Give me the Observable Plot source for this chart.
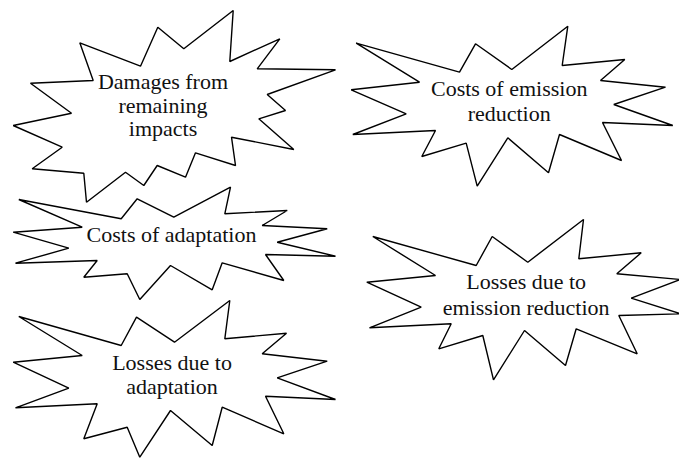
<!DOCTYPE html>
<html>
<head>
<meta charset="utf-8">
<script src="https://cdn.jsdelivr.net/npm/d3@7"></script>
<script src="https://cdn.jsdelivr.net/npm/@observablehq/plot@0.6"></script>
<style>
  html, body { margin: 0; padding: 0; background: #fff; }
  #chart { font-family: "Liberation Serif", serif; }
  #chart svg { display: block; }
</style>
</head>
<body>
<div id="chart"></div>
<script>
// Outline vertices of each starburst (x right, y down)
const starDamages = [
  [79.3, 42.3], [140, 65.7], [157.3, 26.7], [183.3, 48.3], [232.7, 10], [229.3, 61],
  [279.3, 38.3], [256.7, 68.3], [335, 69.3], [266.7, 94], [285, 110], [258.3, 118.3],
  [293.3, 149], [231, 136.7], [235, 165], [195, 152.3], [185, 176.7], [156.7, 165],
  [143.3, 185], [125, 171.7], [86, 201.7], [83.3, 172.7], [31.7, 168.3], [61.7, 146.7],
  [12.7, 125], [71, 112.7], [30, 82.7], [92.7, 80]
];
const starCostsEmission = [
  [355.7, 42.7], [459, 71.7], [475, 43.3], [511.3, 69], [567.3, 25.7], [561.7, 65],
  [624.3, 59], [600, 80], [665, 86.7], [613.3, 104], [672.3, 125], [602, 122],
  [621, 160], [559, 134], [548, 172.3], [507.3, 137.3], [476.7, 185.7], [465.7, 142.7],
  [421.3, 156], [435, 130], [352.3, 134], [405.7, 113.3], [350.7, 89.3], [419, 81.7]
];
const starCostsAdaptation = [
  [18.3, 199], [120.7, 218.3], [136.7, 198.3], [173.3, 216.7], [230, 186.7], [224.3, 213.3],
  [286.7, 210], [261.7, 225], [326.7, 228.3], [276.7, 241.7], [335, 255.7], [265, 254],
  [283.3, 280], [221.7, 262.3], [211.7, 289.3], [170, 265], [139.3, 299], [126.7, 273.3],
  [83.3, 276.7], [96.7, 260], [15, 262.7], [68.3, 247.7], [12.7, 231.7], [81.7, 226.7]
];
const starLossesAdaptation = [
  [18.3, 316], [120.7, 345], [136, 316.7], [174, 341.7], [229.3, 300], [224.3, 338.3],
  [286, 332.7], [261.7, 353.3], [326.7, 360.7], [276.7, 377.3], [335, 399], [265, 395.7],
  [283.3, 433.3], [221.7, 406.7], [211.7, 445], [170, 410], [139.3, 456.7], [126.7, 426.7],
  [83.3, 438.3], [96.7, 403.3], [15, 407.3], [68.3, 387.7], [12.7, 361.7], [81.7, 355]
];
const starLossesEmission = [
  [372.3, 236], [475.7, 265], [491.7, 236], [527.3, 261.7], [583, 219], [578.3, 258.3],
  [640.7, 252.3], [616.3, 273.3], [680, 279], [630.7, 297.7], [680, 313.3], [618.3, 315],
  [636.7, 353.3], [575.7, 328.3], [565, 365], [524, 330], [493, 379.3], [482.3, 335],
  [438.3, 348.3], [450.7, 323.3], [369, 327.3], [420.7, 306.7], [366.3, 281.7], [435, 275]
];

// Label lines: text, centre x, baseline y
const labelText = [
  "Damages from", "remaining", "impacts",
  "Costs of emission", "reduction",
  "Costs of adaptation",
  "Losses due to", "emission reduction",
  "Losses due to", "adaptation"
];
const labelX = [162.5, 162.5, 162.5, 508.7, 508.7, 171, 525.7, 525.7, 171.5, 171.5];
const labelY = [88.5, 112, 135.5, 95, 120.5, 241.5, 288.5, 314, 369, 393.5];

const stars = [
  ["damages", starDamages],
  ["costsEmission", starCostsEmission],
  ["costsAdaptation", starCostsAdaptation],
  ["lossesAdaptation", starLossesAdaptation],
  ["lossesEmission", starLossesEmission]
];
const outline = stars.flatMap(([id, pts]) => pts.map(([x, y]) => ({id, x, y})));
const labels = labelText.map((t, i) => ({t, x: labelX[i], y: labelY[i]}));

const W = 679, H = 458;
const chart = Plot.plot({
  width: W,
  height: H,
  margin: 0,
  style: {background: "#fff", overflow: "visible"},
  x: {domain: [0, W], range: [0, W], axis: null},
  y: {domain: [0, H], range: [0, H], axis: null},
  marks: [
    Plot.line(outline, {
      x: "x", y: "y", z: "id",
      curve: "linear-closed",
      fill: "white",
      stroke: "black",
      strokeWidth: 1.4,
      strokeLinejoin: "miter"
    }),
    Plot.text(labels, {
      x: "x", y: "y", text: "t",
      lineAnchor: "bottom",
      textAnchor: "middle",
      fontSize: 22,
      fill: "#111"
    })
  ]
});
// force the serif face on every label element
chart.style.fontFamily = "Liberation Serif";
d3.select(chart).selectAll("text, tspan, g").style("font-family", "Liberation Serif");
document.getElementById("chart").appendChild(chart);
</script>
</body>
</html>
